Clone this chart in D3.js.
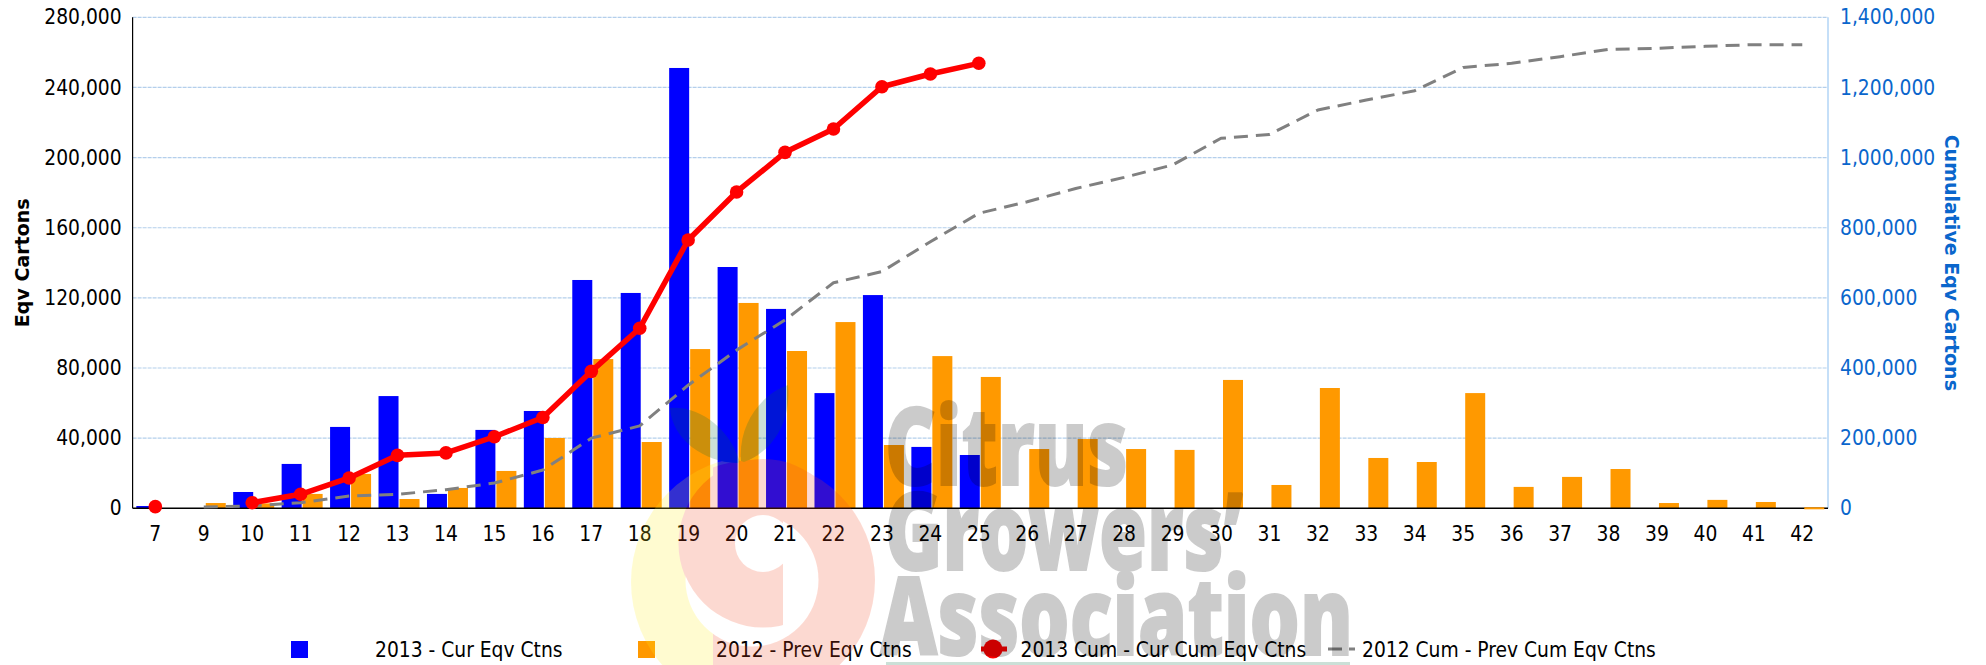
<!DOCTYPE html>
<html>
<head>
<meta charset="utf-8">
<script src="https://cdn.jsdelivr.net/npm/d3@7"></script>
<style>
body { margin: 0; background: #fff; }
text { font-family: "DejaVu Sans Condensed", "DejaVu Sans", sans-serif; }
.axis path, .axis line { display: none; }
</style>
</head>
<body>
<svg id="svg" width="1986" height="665"></svg>
<script>
// chart data
const weeks = ["7","9","10","11","12","13","14","15","16","17","18","19","20","21","22","23","24","25","26","27","28","29","30","31","32","33","34","35","36","37","38","39","40","41","42"];
const curEqv = [1300,0,9300,25300,46400,64000,8200,44700,55500,130200,122800,251100,137600,113700,65700,121600,35000,30400,0,0,0,0,0,0,0,0,0,0,0,0,0,0,0,0,0];
const prevEqv = [0,3000,2800,8200,19600,5300,11600,21300,40100,85100,37800,90800,117100,89700,106200,36100,86800,74900,33800,39500,33800,33300,73200,13300,68600,28700,26400,65700,12200,17900,22400,3000,4800,3600,300];
const curCum = [4750,null,16000,40000,86500,151000,158000,204000,259000,390500,513300,765000,901900,1015000,1081500,1202000,1238300,1268800];
const prevCum = [null,3800,7000,16000,35000,40000,53000,72000,109000,200000,235000,351000,451000,537000,643000,675000,760000,841000,874000,912000,943500,979000,1055000,1066000,1135600,1164000,1190700,1257000,1268800,1287700,1308700,1311600,1317300,1322000,1322000];
const leftTicks = [0,40000,80000,120000,160000,200000,240000,280000];
const rightTicks = [0,200000,400000,600000,800000,1000000,1200000,1400000];

// visual constants
const dims = { width: 1986, height: 665 };
const plot = { left: 132.6, right: 1828, top: 17.3, bottom: 508.3 };
const barW = 20;
const lineShift = -1.5;
const fontSize = 20.8;
const blue = "#0000ff", orange = "#ff9900", red = "#ff0000", gray = "#808080", axisBlue = "#0a66cc";

const xScale = d3.scaleBand().domain(weeks).range([plot.left, plot.right]);
const yLeft = d3.scaleLinear().domain([0, 280000]).range([plot.bottom, plot.top]);
const yRight = d3.scaleLinear().domain([0, 1400000]).range([plot.bottom, plot.top]);
const mid = (w) => xScale(w) + xScale.bandwidth() / 2;
const fmt = d3.format(",");

const mySvg = d3.select("#svg");

// grid
mySvg.append("g").selectAll("line")
    .data(leftTicks.slice(1))
    .enter().append("line")
    .attr("x1", plot.left).attr("x2", plot.right)
    .attr("y1", d => yLeft(d)).attr("y2", d => yLeft(d))
    .attr("stroke", "#b4cfec").attr("stroke-width", 1.2).attr("stroke-dasharray", "4,1");

// bars
mySvg.append("g").selectAll("rect")
    .data(weeks.map((w, i) => ({ w: w, v: curEqv[i] })).filter(d => d.v > 0))
    .enter().append("rect")
    .attr("x", d => mid(d.w) - 0.5 - barW).attr("width", barW)
    .attr("y", d => yLeft(d.v)).attr("height", d => yLeft(0) - yLeft(d.v))
    .attr("fill", blue);
mySvg.append("g").selectAll("rect")
    .data(weeks.map((w, i) => ({ w: w, v: prevEqv[i] })).filter(d => d.v > 0))
    .enter().append("rect")
    .attr("x", d => mid(d.w) + 0.5).attr("width", barW)
    .attr("y", d => yLeft(d.v)).attr("height", d => yLeft(0) - yLeft(d.v))
    .attr("fill", orange);

// axis lines
mySvg.append("line").attr("x1", plot.left).attr("x2", plot.left).attr("y1", plot.top).attr("y2", plot.bottom)
    .attr("stroke", "#000").attr("stroke-width", 1.2);
mySvg.append("line").attr("x1", plot.right).attr("x2", plot.right).attr("y1", plot.top).attr("y2", plot.bottom)
    .attr("stroke", "#c5dff8").attr("stroke-width", 2);
mySvg.append("line").attr("x1", plot.left).attr("x2", plot.right).attr("y1", plot.bottom).attr("y2", plot.bottom)
    .attr("stroke", "#000").attr("stroke-width", 1.5);

// orange bar of week 42 sits on top of the baseline
mySvg.append("rect")
    .attr("x", mid("42") + 0.5).attr("width", barW)
    .attr("y", plot.bottom - 1).attr("height", 2)
    .attr("fill", orange);

// cumulative lines
const cumLine = d3.line()
    .defined(d => d.v !== null)
    .x(d => mid(d.w) + lineShift)
    .y(d => yRight(d.v));
const prevPts = prevCum.map((v, i) => ({ w: weeks[i], v: v }));
const curPts = curCum.map((v, i) => ({ w: weeks[i], v: v }));

mySvg.append("path").datum(prevPts).attr("d", cumLine)
    .attr("fill", "none").attr("stroke", gray).attr("stroke-width", 3)
    .attr("stroke-dasharray", "14,8").attr("stroke-linejoin", "round");
mySvg.append("path").datum(curPts).attr("d", cumLine)
    .attr("fill", "none").attr("stroke", red).attr("stroke-width", 5.5)
    .attr("stroke-linejoin", "round");
mySvg.append("g").selectAll("circle")
    .data(curPts.filter(d => d.v !== null))
    .enter().append("circle")
    .attr("cx", d => mid(d.w) + lineShift).attr("cy", d => yRight(d.v))
    .attr("r", 6.8).attr("fill", red);

// axes
const axisLeft = d3.axisLeft(yLeft).tickValues(leftTicks).tickFormat(fmt).tickSize(0).tickPadding(11);
const gLeft = mySvg.append("g").attr("class", "axis")
    .attr("transform", `translate(${plot.left},0)`).call(axisLeft);
gLeft.selectAll("text").attr("font-size", fontSize).attr("fill", "#000").attr("style", "font-family:'DejaVu Sans Condensed'");

const axisRight = d3.axisRight(yRight).tickValues(rightTicks).tickFormat(fmt).tickSize(0).tickPadding(12);
const gRight = mySvg.append("g").attr("class", "axis")
    .attr("transform", `translate(${plot.right},0)`).call(axisRight);
gRight.selectAll("text").attr("font-size", fontSize).attr("fill", axisBlue);

const axisX = d3.axisBottom(xScale).tickSize(0).tickPadding(17.5);
const gX = mySvg.append("g").attr("class", "axis")
    .attr("transform", `translate(${lineShift},${plot.bottom})`).call(axisX);
gX.selectAll("text").attr("font-size", fontSize).attr("fill", "#000");

// axis titles
mySvg.append("text")
    .attr("transform", `translate(29,${(plot.top + plot.bottom) / 2}) rotate(-90)`)
    .attr("text-anchor", "middle").attr("font-size", 19).attr("font-weight", "bold")
    .style("font-family", "'DejaVu Sans'")
    .text("Eqv Cartons");
mySvg.append("text")
    .attr("transform", `translate(1945,${(plot.top + plot.bottom) / 2}) rotate(90)`)
    .attr("text-anchor", "middle").attr("font-size", 19).attr("font-weight", "bold")
    .attr("fill", axisBlue)
    .style("font-family", "'DejaVu Sans'")
    .text("Cumulative Eqv Cartons");

// legend
const legendY = 656.5;
mySvg.append("rect").attr("x", 291).attr("y", 641).attr("width", 17).attr("height", 17).attr("fill", blue);
mySvg.append("rect").attr("x", 638).attr("y", 641).attr("width", 17).attr("height", 17).attr("fill", orange);
mySvg.append("line").attr("x1", 981).attr("x2", 1007).attr("y1", 649).attr("y2", 649).attr("stroke", red).attr("stroke-width", 5);
mySvg.append("circle").attr("cx", 993).attr("cy", 649).attr("r", 9.5).attr("fill", red);
mySvg.append("line").attr("x1", 1328).attr("x2", 1355).attr("y1", 649).attr("y2", 649)
    .attr("stroke", gray).attr("stroke-width", 3).attr("stroke-dasharray", "14,7");

const legendNames = ["2013 - Cur Eqv Ctns", "2012 - Prev Eqv Ctns", "2013 Cum - Cur Cum Eqv Ctns", "2012 Cum - Prev Cum Eqv Ctns"];
const legendX = [375, 716, 1020.5, 1362];
mySvg.append("g").selectAll("text")
    .data(legendNames)
    .enter().append("text")
    .attr("x", (d, i) => legendX[i]).attr("y", legendY)
    .attr("font-size", fontSize)
    .text(d => d);

// logo watermark, painted over everything at 20%
const defs = mySvg.append("defs");
const cutRight = defs.append("clipPath").attr("id", "innerClip");
cutRight.append("rect").attr("x", 600).attr("y", 380).attr("width", 183).attr("height", 285);
const ringClip = defs.append("clipPath").attr("id", "ringClip");
ringClip.append("rect").attr("x", 713).attr("y", 380).attr("width", 300).attr("height", 285);
const yellowClip = defs.append("clipPath").attr("id", "yellowClip");
yellowClip.append("rect").attr("x", 600).attr("y", 380).attr("width", 160).attr("height", 285);

const mask = defs.append("mask").attr("id", "swoosh").attr("maskUnits", "userSpaceOnUse")
    .attr("x", 0).attr("y", 0).attr("width", dims.width).attr("height", dims.height);
mask.append("rect").attr("width", dims.width).attr("height", dims.height).attr("fill", "#fff");
mask.append("circle").attr("cx", 752).attr("cy", 580).attr("r", 66.5).attr("fill", "#000");
mask.append("circle").attr("cx", 763).attr("cy", 543.5).attr("r", 84).attr("fill", "#fff").attr("clip-path", "url(#innerClip)");
mask.append("ellipse").attr("cx", 763).attr("cy", 543.5).attr("rx", 28).attr("ry", 28.5).attr("fill", "#000");

const mark = mySvg.append("g").attr("opacity", 0.2);
const fruit = mark.append("g").attr("mask", "url(#swoosh)");
fruit.append("circle").attr("cx", 757).attr("cy", 582).attr("r", 126).attr("fill", "#fff019").attr("clip-path", "url(#yellowClip)");
fruit.append("circle").attr("cx", 755).attr("cy", 580).attr("r", 120).attr("fill", "#f5461e").attr("clip-path", "url(#ringClip)");
fruit.append("circle").attr("cx", 763).attr("cy", 543.5).attr("r", 84.5).attr("fill", "#f5461e");

mark.append("path").attr("fill", "#006a3c")
    .attr("d", "M670,408 C700,405 730,430 739,460 C740,463 738,463 736,463 C705,462 672,440 670,408 Z");
mark.append("path").attr("fill", "#006a3c")
    .attr("d", "M741,461 C738,425 760,395 788,385 C791,420 775,450 744,462 Z");
mark.append("rect").attr("x", 886).attr("y", 662).attr("width", 464).attr("height", 3).attr("fill", "#006a3c");

const wmLines = ["Citrus", "Growers’", "Association"];
const wmX = [885, 885, 880];
const wmY = [485, 570, 655];
const wmLen = [243, 358, 473];
mark.append("g").selectAll("text")
    .data(wmLines)
    .enter().append("text")
    .attr("x", (d, i) => wmX[i]).attr("y", (d, i) => wmY[i])
    .attr("textLength", (d, i) => wmLen[i]).attr("lengthAdjust", "spacingAndGlyphs")
    .attr("font-size", 108).attr("font-weight", 800)
    .style("font-family", "'Open Sans'")
    .attr("fill", "#000").attr("stroke", "#000").attr("stroke-width", 2)
    .text(d => d);
</script>
</body>
</html>
